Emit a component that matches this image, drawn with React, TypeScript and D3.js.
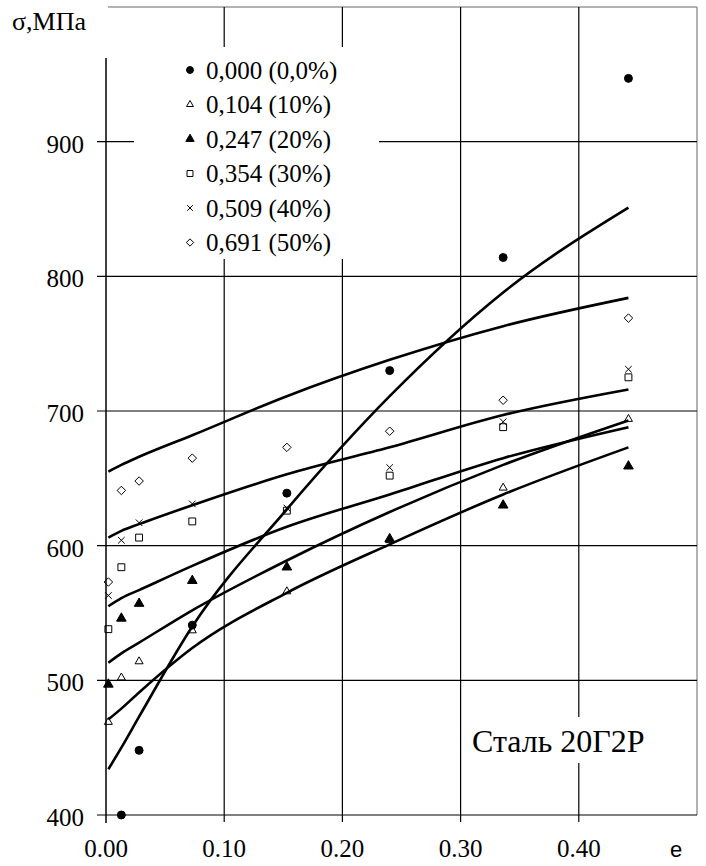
import React from "react";
import * as d3 from "d3";

// strain values where points were measured
const strain = [0.002, 0.013, 0.028, 0.073, 0.153, 0.24, 0.336, 0.442];

// measured stress, MPa (null = no point)
const s000 = [null, 400, 448, 541, 639, 730, 814, 947];
const s104 = [469, 502, 514, 537, 566, 604, 643, 694];
const s247 = [497, 546, 557, 574, 584, 605, 630, 659];
const s354 = [538, 584, 606, 618, 626, 652, 688, 725];
const s509 = [563, 604, 617, 631, 628, 658, 692, 731];
const s691 = [573, 641, 648, 665, 673, 685, 708, 769];

// fitted curves
const fitA = [434, 450, 473, 540, 627, 711, 788, 851];
const fitB = [655, 660, 666, 682, 711, 738, 763, 784];
const fitC = [606, 611, 616, 630, 653, 673, 697, 716];
const fitD = [555, 561, 567, 585, 614, 638, 665, 688];
const fitE = [513, 520, 528, 552, 589, 625, 660, 693];
const fitF = [471, 479, 491, 524, 565, 601, 638, 673];

const legendLabels = [
  "0,000 (0,0%)",
  "0,104 (10%)",
  "0,247 (20%)",
  "0,354 (30%)",
  "0,509 (40%)",
  "0,691 (50%)",
];

const yTicks = [400, 500, 600, 700, 800, 900];
const xTicks = [0, 0.1, 0.2, 0.3, 0.4];

const serifStyle = { fontFamily: "'Liberation Serif', 'DejaVu Serif', serif" };

// marker kinds: symbol, filled?, size
const markers = [
  { sym: d3.symbolCircle, fill: true, size: 50 },
  { sym: d3.symbolTriangle2, fill: false, size: 46 },
  { sym: d3.symbolTriangle, fill: true, size: 40 },
  { sym: d3.symbolSquare2, fill: false, size: 60 },
  { sym: d3.symbolX, fill: false, size: 30 },
  { sym: d3.symbolDiamond2, fill: false, size: 46 },
];

export default function App() {
  const width = 706;
  const height = 866;

  const x = d3.scaleLinear().domain([0, 0.5]).range([106, 697]);
  const y = d3.scaleLinear().domain([400, 1000]).range([815, 7]);

  const series = [s000, s104, s247, s354, s509, s691];
  const fits = [fitA, fitB, fitC, fitD, fitE, fitF];

  const line = d3
    .line<number>()
    .x((_, i) => x(strain[i]))
    .y((d) => y(d))
    .curve(d3.curveMonotoneX);

  const sym = (k: number, scale = 1) =>
    d3.symbol().type(markers[k].sym).size(markers[k].size * scale)() as string;

  const legendY = (i: number) => 70 + i * 34.5;

  return (
    <svg
      width={width}
      height={height}
      style={{ position: "absolute", left: 0, top: 0, background: "#fff" }}
    >
      <rect x={0} y={0} width={width} height={height} fill="#fff" />

      {/* top and right frame */}
      <line x1={108} x2={x(0.5)} y1={y(1000)} y2={y(1000)} stroke="#999" strokeWidth={1.5} />
      <line x1={x(0.5)} x2={x(0.5)} y1={y(1000)} y2={y(400)} stroke="#999" strokeWidth={1.5} />

      {/* horizontal grid + ticks */}
      {yTicks.map((t) => (
        <line key={"h" + t} x1={97} x2={x(0.5)} y1={y(t)} y2={y(t)} stroke="#000" strokeWidth={1.2} />
      ))}
      {/* vertical grid + ticks */}
      {xTicks.slice(1).map((t) => (
        <line key={"v" + t} x1={x(t)} x2={x(t)} y1={y(1000)} y2={822} stroke="#000" strokeWidth={1.2} />
      ))}
      {/* left axis */}
      <line x1={x(0)} x2={x(0)} y1={58} y2={823} stroke="#000" strokeWidth={1.5} />

      {/* legend box */}
      <rect x={134} y={47} width={245} height={212} fill="#fff" />
      {/* steel label box */}
      <rect x={463} y={717} width={226} height={46} fill="#fff" />

      {/* y tick labels */}
      {yTicks.map((t) => (
        <text key={"yl" + t} x={84} y={y(t) + 11} textAnchor="end" style={serifStyle} fontSize={25}>
          {t}
        </text>
      ))}
      {/* x tick labels */}
      {xTicks.map((t) => (
        <text key={"xl" + t} x={x(t)} y={857} textAnchor="middle" style={serifStyle} fontSize={25}>
          {t.toFixed(2)}
        </text>
      ))}
      <text x={12} y={30} style={serifStyle} fontSize={26}>
        σ,МПа
      </text>
      <text x={676} y={857} textAnchor="middle" style={{ fontFamily: "'Liberation Sans', Arial, sans-serif" }} fontSize={22}>
        e
      </text>

      {/* fitted curves */}
      {fits.map((f, i) => (
        <path key={"f" + i} d={line(f) || ""} fill="none" stroke="#000" strokeWidth={2.6} strokeLinejoin="round" />
      ))}

      {/* measured points */}
      {series.map((s, k) =>
        s.map((v, i) =>
          v == null ? null : (
            <path
              key={"p" + k + "-" + i}
              d={sym(k)}
              transform={`translate(${x(strain[i])},${y(v)})`}
              fill={markers[k].fill ? "#000" : "none"}
              stroke="#000"
              strokeWidth={1}
            />
          )
        )
      )}

      {/* legend */}
      {legendLabels.map((lab, i) => (
        <g key={"lg" + i}>
          <path
            d={sym(i, 0.75)}
            transform={`translate(190,${legendY(i)})`}
            fill={markers[i].fill ? "#000" : "none"}
            stroke="#000"
            strokeWidth={1}
          />
          <text x={206} y={legendY(i) + 8.5} style={serifStyle} fontSize={25}>
            {lab}
          </text>
        </g>
      ))}

      <text x={472} y={752} style={serifStyle} fontSize={32}>
        Сталь 20Г2Р
      </text>
    </svg>
  );
}
